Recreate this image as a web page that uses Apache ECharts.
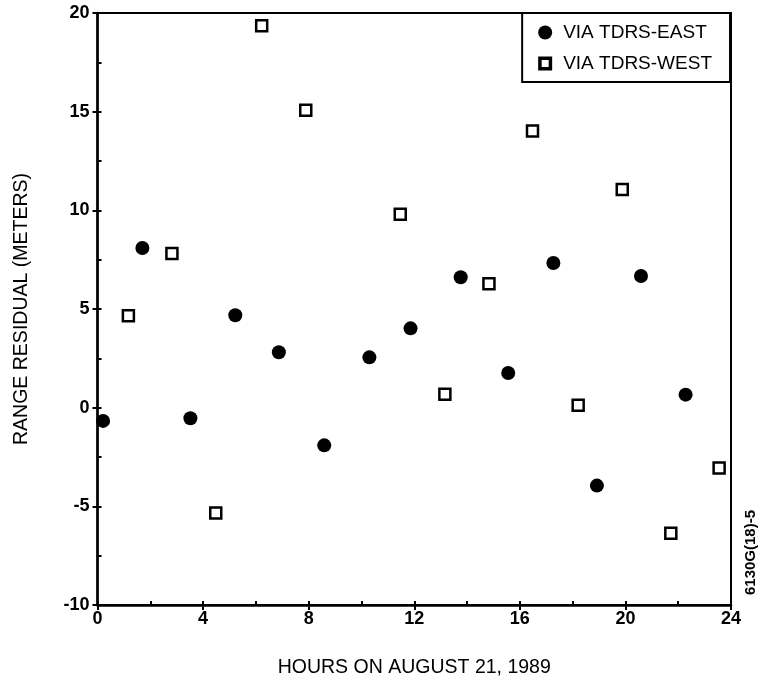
<!DOCTYPE html>
<html><head><meta charset="utf-8">
<script src="https://cdn.jsdelivr.net/npm/echarts@6/dist/echarts.min.js"></script>
<style>html,body{margin:0;padding:0;background:#fff}#c{width:759px;height:683px}</style>
</head><body><div id="c"></div>
<script>
const eastHours = [0.21, 1.70, 3.52, 5.22, 6.87, 8.59, 10.30, 11.86, 13.76, 15.56, 17.27, 18.92, 20.59, 22.28];
const eastResid = [-0.67, 8.09, -0.54, 4.68, 2.81, -1.91, 2.55, 4.02, 6.61, 1.76, 7.33, -3.95, 6.67, 0.66];
const westHours = [1.17, 2.82, 4.48, 6.22, 7.89, 11.47, 13.16, 14.83, 16.48, 18.21, 19.88, 21.72, 23.55];
const westResid = [4.66, 7.81, -5.34, 19.36, 15.07, 9.80, 0.68, 6.28, 14.02, 0.12, 11.05, -6.37, -3.06];
const xTicks = [0, 4, 8, 12, 16, 20, 24];
const yTicks = [-10, -5, 0, 5, 10, 15, 20];

const font = 'Liberation Sans, Arial, Helvetica, sans-serif';
const hollowSquare = 'path://M0,0H12V12H0Z M3,3V9H9V3Z';
const chart = echarts.init(document.getElementById('c'));
chart.setOption({
  animation: false,
  backgroundColor: '#fff',
  grid: { left: 97.5, right: 28, top: 13, bottom: 78, show: true, borderColor: '#000', borderWidth: 2, backgroundColor: 'transparent' },
  legend: {
    orient: 'vertical', right: 29, top: 13,
    backgroundColor: '#fff', borderColor: '#000', borderWidth: 2,
    padding: [10, 18, 9, 16], itemGap: 12, itemWidth: 14, itemHeight: 14,
    textStyle: { fontFamily: font, fontSize: 19, color: '#000', padding: [0, 0, 0, 6] },
    data: [
      { name: 'VIA TDRS-EAST', icon: 'circle' },
      { name: 'VIA TDRS-WEST', icon: hollowSquare, itemStyle: { color: '#000', borderWidth: 0 } }
    ]
  },
  xAxis: [{
    type: 'value', min: xTicks[0], max: xTicks[xTicks.length - 1], interval: 4,
    name: 'HOURS ON AUGUST 21, 1989', nameLocation: 'middle', nameGap: 53,
    nameTextStyle: { fontFamily: font, fontSize: 19.5, color: '#000' },
    axisLine: { show: true, onZero: false, lineStyle: { color: '#000', width: 2.5 } },
    axisTick: { show: true, inside: false, length: 5, lineStyle: { color: '#000', width: 2 } },
    axisLabel: { fontFamily: font, fontSize: 18, fontWeight: 'bold', color: '#000', margin: 5 },
    splitLine: { show: false }
  }, {
    type: 'value', position: 'bottom', min: 0, max: 24, interval: 2,
    axisLine: { show: false, onZero: false }, axisLabel: { show: false }, splitLine: { show: false },
    axisTick: { show: true, inside: true, length: 4, lineStyle: { color: '#000', width: 2 } }
  }],
  yAxis: [{
    type: 'value', min: yTicks[0], max: yTicks[yTicks.length - 1], interval: 5,
    name: 'RANGE RESIDUAL (METERS)', nameLocation: 'middle', nameGap: 66,
    nameTextStyle: { fontFamily: font, fontSize: 19.5, color: '#000' },
    axisLine: { show: true, onZero: false, lineStyle: { color: '#000', width: 2.5 } },
    axisTick: { show: true, inside: false, length: 5, lineStyle: { color: '#000', width: 2 } },
    axisLabel: { fontFamily: font, fontSize: 18, fontWeight: 'bold', color: '#000', margin: 8 },
    splitLine: { show: false }
  }, {
    type: 'value', position: 'left', min: -10, max: 20, interval: 2.5,
    axisLine: { show: false, onZero: false }, axisLabel: { show: false }, splitLine: { show: false },
    axisTick: { show: true, inside: true, length: 4, lineStyle: { color: '#000', width: 2 } }
  }],
  series: [{
    name: 'VIA TDRS-EAST', type: 'scatter', symbol: 'circle', symbolSize: 14,
    itemStyle: { color: '#000', opacity: 1 },
    data: eastHours.map((h, i) => [h, eastResid[i]])
  }, {
    name: 'VIA TDRS-WEST', type: 'scatter', symbol: 'rect', symbolSize: 11,
    itemStyle: { color: '#fff', borderColor: '#000', borderWidth: 2.5, opacity: 1 },
    data: westHours.map((h, i) => [h, westResid[i]])
  }],
  graphic: [{
    type: 'text', left: 743, top: 510, rotation: Math.PI / 2,
    style: { text: '6130G(18)-5', font: 'bold 15px ' + font, fill: '#000' }
  }]
});
</script></body></html>
